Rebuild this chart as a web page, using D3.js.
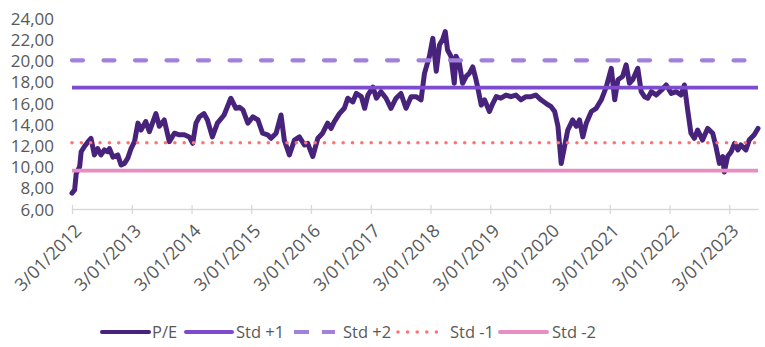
<!DOCTYPE html>
<html>
<head>
<meta charset="utf-8">
<script src="https://cdn.jsdelivr.net/npm/d3@7"></script>
<style>
  html, body { margin: 0; padding: 0; background: #ffffff; }
  svg { display: block; }
</style>
</head>
<body>
<svg id="chart" width="765" height="347"></svg>
<script>
// ---- Data ----
const dates = [
  "2012-01-03","2012-01-19","2012-01-29","2012-02-19","2012-02-28","2012-03-19","2012-04-08","2012-04-28",
  "2012-05-19","2012-06-08","2012-06-28","2012-07-19","2012-08-09","2012-08-19","2012-09-09","2012-10-09",
  "2012-10-29","2012-11-19","2012-12-09","2012-12-29","2013-01-19","2013-02-09","2013-02-28","2013-03-29",
  "2013-04-20","2013-05-30","2013-06-20","2013-07-20","2013-08-20","2013-09-20","2013-10-20","2013-11-20",
  "2013-12-20","2014-01-10","2014-01-30","2014-02-20","2014-03-20","2014-04-10","2014-05-10","2014-06-10",
  "2014-07-21","2014-08-31","2014-10-01","2014-10-23","2014-11-13","2014-12-13","2015-01-13","2015-02-13",
  "2015-03-13","2015-04-13","2015-05-04","2015-06-04","2015-07-04","2015-07-24","2015-08-24","2015-09-24",
  "2015-10-24","2015-11-24","2015-12-14","2016-01-14","2016-02-14","2016-03-14","2016-04-14","2016-05-05",
  "2016-05-25","2016-06-25","2016-07-25","2016-08-15","2016-09-15","2016-10-06","2016-11-06","2016-11-26",
  "2016-12-16","2017-01-16","2017-02-06","2017-03-06","2017-04-06","2017-05-06","2017-06-06","2017-07-06",
  "2017-08-06","2017-09-06","2017-10-06","2017-11-06","2017-11-27","2017-12-27","2018-01-17","2018-02-07",
  "2018-02-27","2018-03-17","2018-04-03","2018-04-17","2018-05-08","2018-05-28","2018-06-08","2018-06-28",
  "2018-07-18","2018-08-08","2018-08-28","2018-09-18","2018-10-08","2018-10-18","2018-11-09","2018-11-29",
  "2018-12-29","2019-01-19","2019-02-09","2019-03-09","2019-04-09","2019-05-09","2019-06-09","2019-07-09",
  "2019-08-09","2019-09-09","2019-10-09","2019-11-09","2019-12-09","2020-01-10","2020-02-01","2020-02-21",
  "2020-03-12","2020-04-01","2020-04-21","2020-05-21","2020-06-12","2020-07-02","2020-07-22","2020-08-12",
  "2020-09-12","2020-10-12","2020-11-12","2020-12-12","2021-01-12","2021-02-02","2021-02-22","2021-03-22",
  "2021-04-13","2021-05-03","2021-05-23","2021-06-23","2021-07-14","2021-08-03","2021-08-23","2021-09-14",
  "2021-10-14","2021-11-14","2021-12-14","2022-01-14","2022-02-14","2022-03-14","2022-04-04","2022-04-24",
  "2022-05-14","2022-06-04","2022-06-24","2022-07-24","2022-08-24","2022-09-24","2022-10-14","2022-11-04",
  "2022-11-24","2022-12-04","2022-12-24","2023-01-15","2023-02-05","2023-02-25","2023-03-15","2023-04-15",
  "2023-05-05","2023-06-05","2023-06-28"
];
const peValues = [
  7.5, 7.8, 9.37, 10.0, 11.4, 11.9, 12.3, 12.67,
  11.1, 11.7, 11.1, 11.57, 11.4, 11.7, 10.9, 11.1,
  10.15, 10.3, 10.8, 11.7, 12.35, 14.1, 13.45, 14.25,
  13.3, 15.0, 13.8, 14.4, 12.35, 13.15, 13.0, 13.0,
  12.8, 12.2, 14.1, 14.7, 15.0, 14.4, 12.8, 14.1,
  14.87, 16.45, 15.5, 15.6, 15.35, 14.1, 14.7, 14.4,
  13.15, 13.0, 12.67, 13.15, 14.87, 12.5, 11.1, 12.5,
  12.8, 12.04, 12.2, 10.95, 12.67, 13.15, 14.1, 13.6,
  14.24, 15.0, 15.5, 16.45, 16.1, 16.9, 16.6, 15.5,
  16.75, 17.5, 16.45, 17.07, 16.45, 15.5, 16.45, 16.9,
  15.5, 16.6, 16.6, 16.3, 18.8, 20.4, 22.1, 19.0,
  21.5, 21.95, 22.73, 21.0, 20.4, 17.86, 20.4, 19.75,
  17.86, 18.5, 18.8, 19.4, 18.2, 17.5, 15.8, 16.3,
  15.2, 15.97, 16.6, 16.45, 16.75, 16.6, 16.75, 16.3,
  16.6, 16.6, 16.75, 16.3, 15.97, 15.65, 15.2, 13.8,
  10.3, 11.87, 13.45, 14.4, 13.8, 14.4, 12.8, 14.1,
  15.2, 15.5, 16.3, 17.5, 19.27, 16.3, 18.2, 18.5,
  19.6, 17.86, 18.2, 19.27, 17.07, 16.6, 16.45, 17.07,
  16.75, 17.2, 17.7, 16.9, 17.07, 16.75, 17.7, 15.34,
  13.15, 12.67, 13.45, 12.5, 13.6, 13.15, 11.87, 10.3,
  10.95, 9.5, 10.95, 11.4, 12.2, 11.57, 12.04, 11.57,
  12.5, 13.0, 13.6
];
const stdPlus1 = 17.45;
const stdPlus2 = 20.03;
const stdMinus1 = 12.25;
const stdMinus2 = 9.62;
const yTicks = [6, 8, 10, 12, 14, 16, 18, 20, 22, 24];
const xTickDates = ["2012-01-03","2013-01-03","2014-01-03","2015-01-03","2016-01-03","2017-01-03",
  "2018-01-03","2019-01-03","2020-01-03","2021-01-03","2022-01-03","2023-01-03"];
const seriesNames = ["P/E", "Std +1", "Std +2", "Std -1", "Std -2"];

// ---- Chart ----
const parse = d3.timeParse("%Y-%m-%d");
const svg = d3.select("#chart");
const FONT = "'Open Sans', 'Noto Sans', sans-serif";
const TXT = "#595959";

const x = d3.scaleTime()
  .domain([parse("2012-01-03"), parse("2023-06-28")])
  .range([72, 758]);
const y = d3.scaleLinear().domain([6, 24]).range([209, 18.2]);

const styles = [
  { color: "#48237c", width: 5, dash: null, cap: "round" },
  { color: "#7c4ccc", width: 3.6, dash: null, cap: "butt" },
  { color: "#a281dc", width: 4.2, dash: "11 20.5", cap: "round" },
  { color: "#ff7373", width: 3.6, dash: "0 9.35", cap: "round" },
  { color: "#e78ec2", width: 3.8, dash: null, cap: "butt" }
];

// y-axis labels (no axis line)
const yAxis = d3.axisLeft(y).tickValues(yTicks).tickSize(0).tickPadding(0)
  .tickFormat(d => d.toFixed(2).replace(".", ","));
const gy = svg.append("g").attr("transform", "translate(54,0)").call(yAxis);
gy.select(".domain").remove();
gy.selectAll("text").attr("fill", TXT).style("font-family", FONT).style("font-size", "17px")
  .attr("dy", "0.36em").attr("x", 0);

// x axis
const xAxis = d3.axisBottom(x).tickValues(xTickDates.map(parse)).tickSize(0)
  .tickFormat(d3.timeFormat("%-d/%m/%Y"));
const gx = svg.append("g").attr("transform", "translate(0,209)").call(xAxis);
gx.select(".domain").attr("stroke", "#d9d9d9").attr("stroke-width", 1.3);
gx.selectAll(".tick line").attr("stroke", "#d9d9d9").attr("stroke-width", 1.3)
  .attr("y1", -4).attr("y2", 5);
gx.selectAll(".tick text")
  .attr("fill", TXT).style("font-family", FONT).style("font-size", "18px")
  .attr("text-anchor", "end").attr("y", 0).attr("dy", 0)
  .attr("transform", "translate(10,23) rotate(-45)");

// P/E line
const peData = dates.map((d, i) => ({ date: parse(d), value: peValues[i] }));
const line = d3.line().x(d => x(d.date)).y(d => y(d.value)).curve(d3.curveLinear);
svg.append("path").datum(peData)
  .attr("d", line)
  .attr("fill", "none")
  .attr("stroke", styles[0].color)
  .attr("stroke-width", styles[0].width)
  .attr("stroke-linejoin", "round")
  .attr("stroke-linecap", "round");

// horizontal std lines
const levels = [stdPlus1, stdPlus2, stdMinus1, stdMinus2];
levels.forEach((v, i) => {
  const s = styles[i + 1];
  const hl = d3.line().x(d => x(d)).y(() => y(v));
  svg.append("path").datum([parse(dates[0]), parse(dates[dates.length - 1])])
    .attr("d", hl)
    .attr("fill", "none")
    .attr("stroke", s.color)
    .attr("stroke-width", s.width)
    .attr("stroke-dasharray", s.dash)
    .attr("stroke-linecap", s.cap);
});

// legend
const legendY = 332;
const legendItems = [
  { x0: 102, x1: 149, tx: 152 },
  { x0: 186, x1: 232, tx: 236 },
  { x0: 292, x1: 335, tx: 343 },
  { x0: 398, x1: 444, tx: 450 },
  { x0: 500, x1: 547, tx: 552 }
];
const lg = svg.append("g");
seriesNames.forEach((name, i) => {
  const s = styles[i];
  const it = legendItems[i];
  let dash = s.dash;
  if (i === 2) dash = "15 13";
  if (i === 3) dash = "0 9.6";
  lg.append("line")
    .attr("x1", it.x0 + (i === 2 ? 2 : 0)).attr("x2", it.x1).attr("y1", legendY).attr("y2", legendY)
    .attr("stroke", s.color).attr("stroke-width", i === 3 ? 3.6 : 4)
    .attr("stroke-dasharray", dash)
    .attr("stroke-linecap", i === 3 ? "round" : (i === 2 ? "butt" : "round"));
  lg.append("text")
    .attr("x", it.tx).attr("y", legendY).attr("dy", "0.36em")
    .attr("fill", TXT).style("font-family", FONT).style("font-size", "16.5px")
    .text(name);
});
</script>
</body>
</html>
